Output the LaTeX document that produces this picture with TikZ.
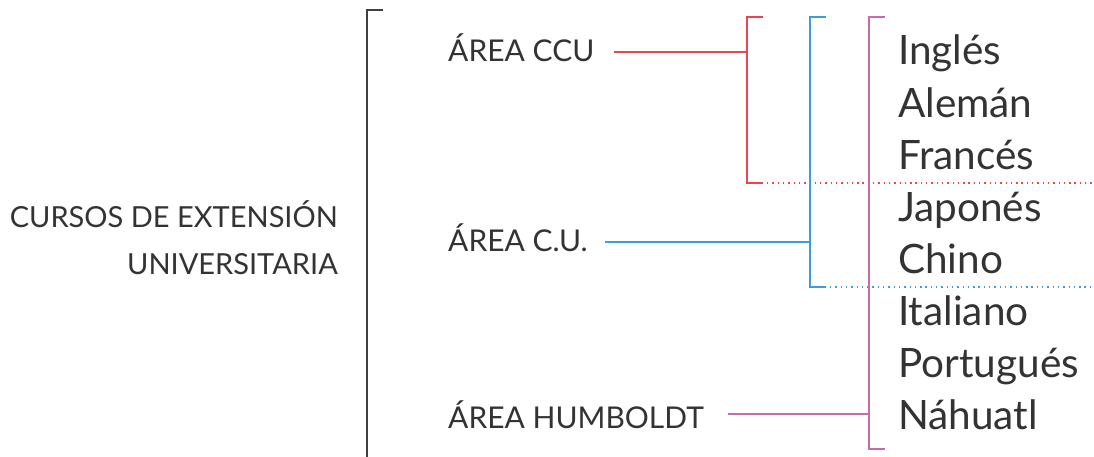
\documentclass[tikz,border=0pt]{standalone}
\usepackage{fontspec}
\setmainfont{Lato}
\usetikzlibrary{positioning,calc}
\definecolor{cursored}{HTML}{E8474F}
\definecolor{cursoblue}{HTML}{3D9DDB}
\definecolor{cursopink}{HTML}{C86BA6}
\definecolor{cursoink}{HTML}{333333}

\begin{document}
\begin{tikzpicture}[x=1pt,y=-1pt,
  txt/.style={inner sep=0pt,text=cursoink},
  area/.style={txt,anchor=base west,font=\fontsize{30}{36}\selectfont},
  lang/.style={txt,anchor=base west,font=\fontsize{40.5}{48}\selectfont},
  brk/.style={line width=1.8pt},
  dots/.style={line width=1.5pt,dash pattern=on 1.4pt off 3.9pt}]
  \useasboundingbox (0,0) rectangle (1094,457);

  % title and the three areas
  \node[txt,anchor=base east,align=right,font=\fontsize{29}{47}\selectfont] (cursos) at (338,274)
    {CURSOS DE EXTENSIÓN\\UNIVERSITARIA};
  \node[area] (ccu) at (448,62) {ÁREA CCU};
  \node[area] (cu) at (448,251) {ÁREA C.U.};
  \node[area] (hum) at (448,428) {ÁREA HUMBOLDT};

  % languages
  \foreach \lab/\i in {Inglés/0,Alemán/1,Francés/2,Japonés/3,Chino/4,Italiano/5,Portugués/6,Náhuatl/7}{
    \node[lang] (lang\i) at (898,65+52.1*\i) {\lab};
  }

  % bracket corners
  \coordinate (maintop) at (367,10);
  \coordinate (mainbot) at (367,457);
  \coordinate (redtop) at (747,17);
  \coordinate (redbot) at (747,183);
  \coordinate (redmid) at (747,52);
  \coordinate (bluetop) at (810,17);
  \coordinate (bluebot) at (810,287);
  \coordinate (bluemid) at (810,242);
  \coordinate (pinktop) at (869,17);
  \coordinate (pinkbot) at (869,449);
  \coordinate (pinkmid) at (869,414);
  \coordinate (edge) at (1094,0);

  \draw[brk,black!75] ([xshift=16]maintop) -- (maintop) -- (mainbot);

  \draw[brk,cursored] ([xshift=16]redtop) -- (redtop) -- (redbot) -- ([xshift=16]redbot);
  \draw[brk,cursored] ([xshift=19]ccu.east |- redmid) -- (redmid);
  \draw[dots,cursored] ([xshift=20]redbot) -- (redbot -| edge);

  \draw[brk,cursoblue] ([xshift=16]bluetop) -- (bluetop) -- (bluebot) -- ([xshift=16]bluebot);
  \draw[brk,cursoblue] ([xshift=17]cu.east |- bluemid) -- (bluemid);
  \draw[dots,cursoblue] ([xshift=20]bluebot) -- (bluebot -| edge);

  \draw[brk,cursopink] ([xshift=16]pinktop) -- (pinktop) -- (pinkbot) -- ([xshift=16]pinkbot);
  \draw[brk,cursopink] ([xshift=24]hum.east |- pinkmid) -- (pinkmid);
\end{tikzpicture}
\end{document}
